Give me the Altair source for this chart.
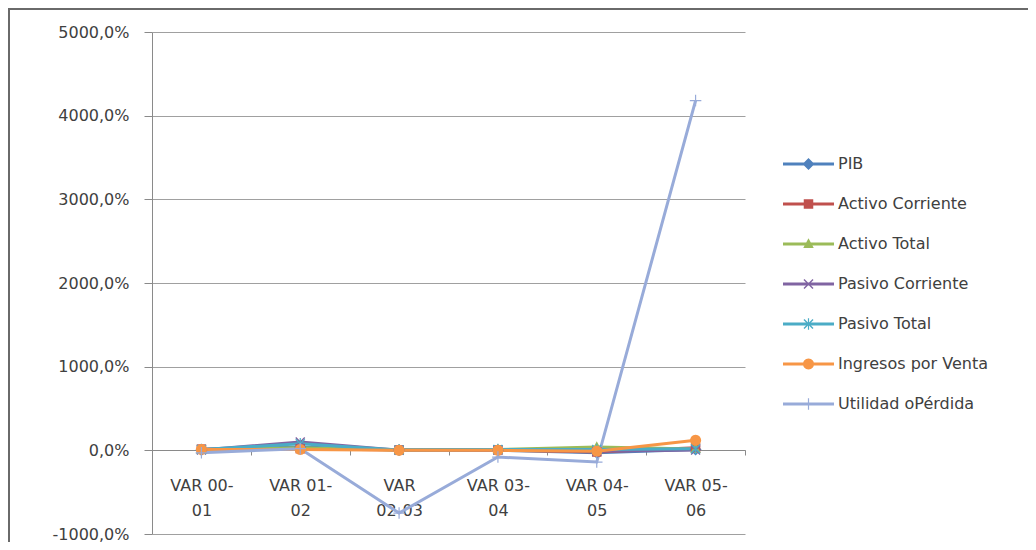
import math
import re

import altair as alt
import pandas as pd

# ---------------- data ----------------
categorias = ["VAR 00-01", "VAR 01-02", "VAR 02-03", "VAR 03-04", "VAR 04-05", "VAR 05-06"]
series = [
    "PIB",
    "Activo Corriente",
    "Activo Total",
    "Pasivo Corriente",
    "Pasivo Total",
    "Ingresos por Venta",
    "Utilidad oPérdida",
]

pib = [5, 40, 3, 2, -30, 10]
activo_corriente = [15, 20, 5, 5, -20, 30]
activo_total = [10, 30, 5, 10, 40, 15]
pasivo_corriente = [5, 100, 0, 5, -10, 5]
pasivo_total = [10, 80, 5, 10, 10, 20]
ingresos_venta = [10, 10, 0, 0, -10, 120]
utilidad_perdida = [-30, 20, -750, -80, -140, 4180]

valores = [pib, activo_corriente, activo_total, pasivo_corriente,
           pasivo_total, ingresos_venta, utilidad_perdida]

colores = ["#4F81BD", "#C0504D", "#9BBB59", "#8064A2", "#4BACC6", "#F79646", "#98ABD9"]
ticks_y = [-1000, 0, 1000, 2000, 3000, 4000, 5000]

rows = []
for i, (s, vals) in enumerate(zip(series, valores)):
    for j, (c, v) in enumerate(zip(categorias, vals)):
        rows.append({"serie": s, "cat": c, "valor": v, "orden": i * 10 + j})
df = pd.DataFrame(rows)

# ---------------- marker shapes ----------------
def circle_path(r, n=28):
    pts = [(r * math.cos(2 * math.pi * k / n), r * math.sin(2 * math.pi * k / n)) for k in range(n)]
    return "M" + "L".join(f"{x:.3f},{y:.3f}" for x, y in pts) + "Z"

diamante = "M0,-1.2L1.2,0L0,1.2L-1.2,0Z"
cuadrado = "M-0.95,-0.95L0.95,-0.95L0.95,0.95L-0.95,0.95Z"
triangulo = "M0,-1.15L1.05,0.8L-1.05,0.8Z"
equis = "M-1,-0.8L-0.8,-1L1,0.8L0.8,1Z M0.8,-1L1,-0.8L-0.8,1L-1,0.8Z"
barra_v = "M-0.12,-1.15L0.12,-1.15L0.12,1.15L-0.12,1.15Z"
barra_h = "M-1.15,-0.12L1.15,-0.12L1.15,0.12L-1.15,0.12Z"
asterisco = equis + " " + barra_v
circulo = circle_path(1.1)
mas = barra_v + " " + barra_h
marcadores = [diamante, cuadrado, triangulo, equis, asterisco, circulo, mas]


def scale_path(p, k):
    return re.sub(r"-?\d+\.?\d*", lambda m: f"{float(m.group()) * k:.4f}", p)


linea_leyenda = "M-1.275,-0.075L1.275,-0.075L1.275,0.075L-1.275,0.075Z"
marcadores_leyenda = [linea_leyenda + " " + scale_path(m, 0.25) for m in marcadores]

# ---------------- encodings ----------------
FONT = "DejaVu Sans"
TXT = "#404040"
AX = "#8a8a8a"

x_enc = alt.X(
    "cat:N",
    sort=categorias,
    bandPosition=0.5,
    scale=alt.Scale(type="band", domain=categorias, paddingInner=0, paddingOuter=0),
    axis=alt.Axis(
        title=None,
        orient="bottom",
        offset=-84,
        tickBand="extent",
        tickSize=5,
        tickColor=AX,
        domainColor=AX,
        labelAngle=0,
        labelFont=FONT,
        labelFontSize=16,
        labelColor=TXT,
        labelPadding=22,
        labelLineHeight=25,
        labelExpr="!isString(datum.value) ? '' : (datum.value == 'VAR 02-03' ? ['VAR', '02-03'] : [slice(datum.value, 0, 7), slice(datum.value, 7)])",
        grid=False,
    ),
)

y_enc = alt.Y(
    "valor:Q",
    scale=alt.Scale(domain=[-1000, 5000], nice=False, zero=False),
    axis=alt.Axis(
        title=None,
        values=ticks_y,
        labelExpr="datum.value + ',0%'",
        tickSize=8,
        tickColor=AX,
        domainColor=AX,
        gridColor="#a0a0a0",
        labelFont=FONT,
        labelFontSize=16,
        labelColor=TXT,
        labelPadding=15,
    ),
)

color_scale = alt.Scale(domain=series, range=colores)

lineas = alt.Chart(df).mark_line(strokeWidth=3).encode(
    x=x_enc,
    y=y_enc,
    color=alt.Color("serie:N", scale=color_scale, legend=None),
    order=alt.Order("orden:Q"),
)

puntos = alt.Chart(df).mark_point(filled=True, opacity=1, size=100, strokeWidth=0).encode(
    x=x_enc,
    y=y_enc,
    color=alt.Color("serie:N", scale=color_scale, legend=None),
    shape=alt.Shape("serie:N", scale=alt.Scale(domain=series, range=marcadores), legend=None),
    order=alt.Order("orden:Q"),
)

leg_props = dict(
    title=None,
    orient="none",
    legendX=636.5,
    legendY=112,
    symbolSize=1600,
    symbolStrokeWidth=0,
    symbolOpacity=1,
    labelFont=FONT,
    labelFontSize=16,
    labelColor=TXT,
    labelOffset=9.5,
    rowPadding=12,
    padding=0,
    labelLimit=300,
)

leyenda = alt.Chart(df).transform_filter("false").mark_point(filled=True, opacity=1, strokeWidth=0).encode(
    color=alt.Color("serie:N", scale=color_scale, legend=alt.Legend(**leg_props)),
    shape=alt.Shape("serie:N", scale=alt.Scale(domain=series, range=marcadores_leyenda),
                    legend=alt.Legend(**leg_props)),
)

marco_df = pd.DataFrame({"k": [0]})
borde_sup = alt.Chart(marco_df).mark_rule(color="#6a6a6a", strokeWidth=2).encode(
    x=alt.value(-144), x2=alt.value(900), y=alt.value(-23)
)
borde_izq = alt.Chart(marco_df).mark_rule(color="#6a6a6a", strokeWidth=2).encode(
    x=alt.value(-143), y=alt.value(-24), y2=alt.value(520)
)

chart = (
    alt.layer(borde_sup, borde_izq, lineas, puntos, leyenda)
    .resolve_scale(color="independent", shape="independent")
    .properties(
        width=593,
        height=502,
        autosize=alt.AutoSizeParams(type="none"),
        padding={"left": 144, "top": 24, "right": 283, "bottom": 8},
        background="white",
    )
    .configure_view(stroke=None)
)

chart.save("out.html", embed_options={"renderer": "svg", "actions": False})
